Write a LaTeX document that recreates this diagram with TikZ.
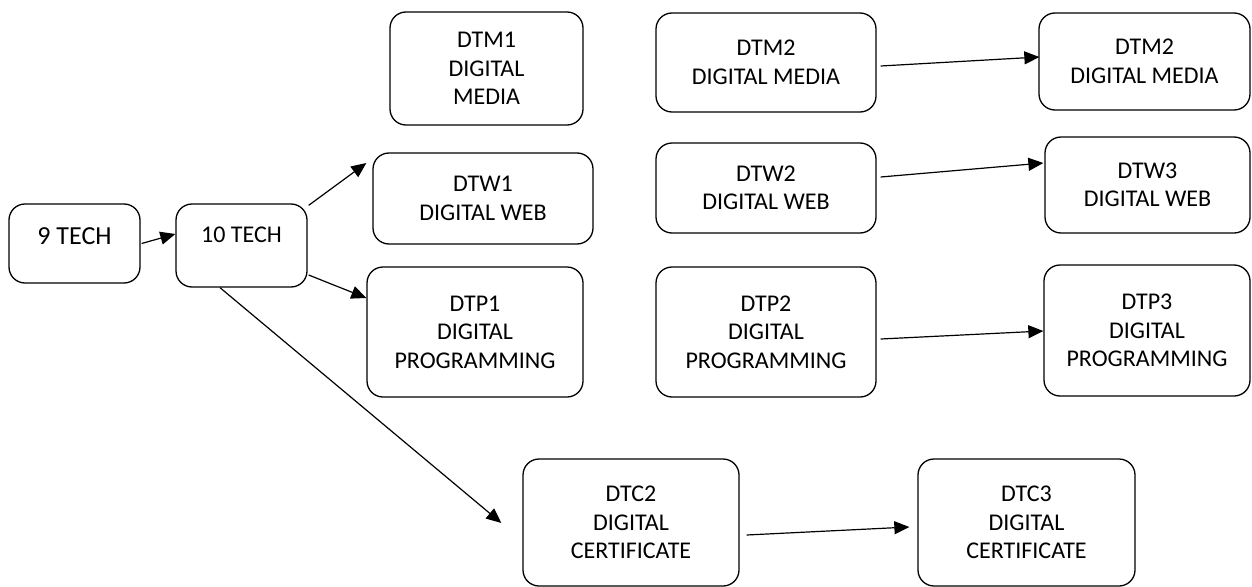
\documentclass[tikz,border=0pt]{standalone}
\usepackage{fontspec}
\setmainfont{Carlito}
\usetikzlibrary{arrows.meta,calc}
\begin{document}
\begin{tikzpicture}[x=1pt,y=-1pt,
  box/.style={draw, line width=1.3pt, rounded corners=16pt, align=center,
    inner sep=0pt, font=\fontsize{24}{28.5}\selectfont},
  conn/.style={line width=1.2pt, -{Triangle[length=15pt,width=13pt]}}]
\useasboundingbox (0,0) rectangle (1252,586);
% left
\node[box, minimum width=131pt, minimum height=79pt, text depth=15pt,
  font=\fontsize{26}{30}\selectfont] (t9) at (74.5,243.5) {9 TECH};
\node[box, minimum width=131pt, minimum height=83pt, text depth=21pt] (t10) at (241.5,245.5) {10 TECH};
% column 1
\node[box, minimum width=193pt, minimum height=113pt] (dtm1) at (486.5,68.5) {DTM1\\DIGITAL\\MEDIA};
\node[box, minimum width=220pt, minimum height=91pt] (dtw1) at (483,198.5) {DTW1\\DIGITAL WEB};
\node[box, minimum width=216pt, minimum height=130pt] (dtp1) at (475,332) {DTP1\\DIGITAL\\PROGRAMMING};
% column 2
\node[box, minimum width=220pt, minimum height=99pt] (dtm2l) at (766,62.5) {DTM2\\DIGITAL MEDIA};
\node[box, minimum width=220pt, minimum height=90pt] (dtw2) at (766,188) {DTW2\\DIGITAL WEB};
\node[box, minimum width=220pt, minimum height=130pt] (dtp2) at (766,332) {DTP2\\DIGITAL\\PROGRAMMING};
% column 3
\node[box, minimum width=211pt, minimum height=97pt] (dtm2r) at (1144.5,61.5) {DTM2\\DIGITAL MEDIA};
\node[box, minimum width=205pt, minimum height=96pt] (dtw3) at (1147.5,185) {DTW3\\DIGITAL WEB};
\node[box, minimum width=206pt, minimum height=131pt] (dtp3) at (1147,330.5) {DTP3\\DIGITAL\\PROGRAMMING};
% bottom row
\node[box, minimum width=216pt, minimum height=127pt] (dtc2) at (631,522.5) {DTC2\\DIGITAL\\CERTIFICATE};
\node[box, minimum width=217pt, minimum height=127pt] (dtc3) at (1026.5,522.5) {DTC3\\DIGITAL\\CERTIFICATE};
% connectors
\draw[conn] ($(t9.east)+(1,0)$) -- ($(t10.west)+(0,-11.5)$);
\draw[conn] ($(t10.north east)+(1,2)$) -- ($(dtw1.west)+(-6,-35.5)$);
\draw[conn] ($(t10.east)+(1,29.5)$) -- ($(dtp1.west)+(0,-34)$);
\draw[conn] ($(t10.south)+(-21.5,0)$) -- ($(dtc2.west)+(-21,0.5)$);
\draw[conn] ($(dtm2l.east)+(4,3.5)$) -- ($(dtm2r.west)+(1,-4.5)$);
\draw[conn] ($(dtw2.east)+(4,-11)$) -- ($(dtw3.west)+(-1,-22)$);
\draw[conn] ($(dtp2.east)+(4,7)$) -- ($(dtp3.west)+(0,0.5)$);
\draw[conn] ($(dtc2.east)+(7,12.5)$) -- ($(dtc3.west)+(-8,4.5)$);
\end{tikzpicture}
\end{document}
